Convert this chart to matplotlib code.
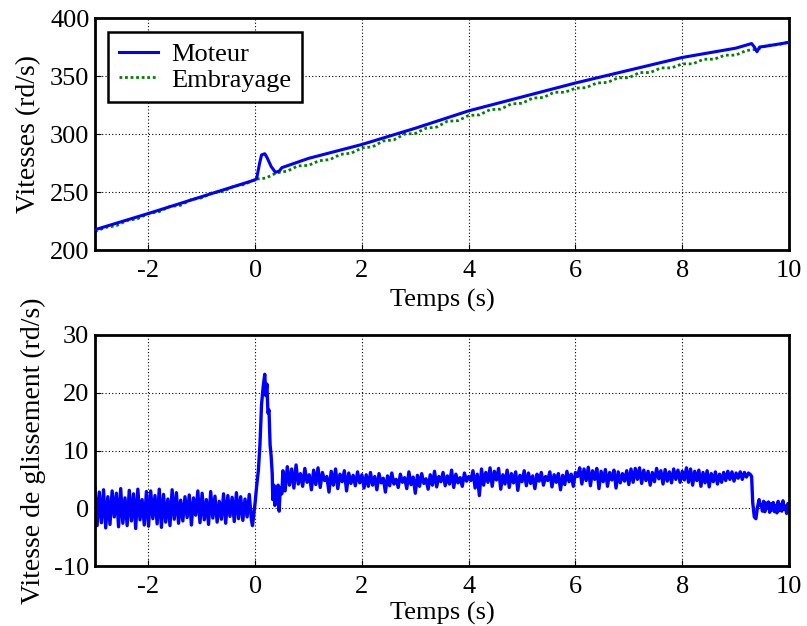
import numpy as np
import matplotlib
matplotlib.use("Agg")
import matplotlib.pyplot as plt

plt.rcParams['font.family'] = ['Liberation Serif', 'DejaVu Serif']
plt.rcParams['axes.unicode_minus'] = False

# ---------------- data: top panel ----------------
moteur_t = [-3.0, -2.0, -1.0, 0.0, 0.03, 0.08, 0.12, 0.18, 0.22, 0.30, 0.38, 0.45, 0.50,
            1.0, 1.5, 2.0, 3.0, 4.0, 5.0, 6.0, 7.0, 8.0, 9.0, 9.30, 9.35, 9.40, 9.45, 9.60, 10.0]
moteur_v = [217.5, 231.5, 246.0, 260.5, 262.0, 274.0, 282.0, 283.0, 280.0, 272.0, 267.0, 268.0, 271.0,
            279.0, 285.0, 291.0, 305.0, 320.0, 332.0, 344.0, 355.0, 366.0, 374.0, 378.0, 375.0, 371.0, 375.0, 376.0, 379.0]

embrayage_t_start, embrayage_t_end = -3.0, 10.0
embrayage_v = [216.0, 219.5, 221.0, 225.5, 227.0, 231.5, 233.0, 237.5, 238.5, 243.5,
               245.0, 249.5, 250.5, 255.0, 256.5, 261.0, 262.0, 266.5, 268.0, 272.5,
               273.0, 277.0, 278.0, 282.5, 283.5, 288.0, 289.0, 294.0, 295.0, 300.0,
               300.5, 305.0, 306.0, 311.0, 311.5, 316.0, 316.5, 321.0, 321.5, 326.0,
               326.5, 331.0, 331.5, 336.0, 336.0, 339.5, 340.0, 344.0, 344.5, 348.5,
               348.5, 353.0, 353.0, 357.0, 357.0, 360.5, 360.5, 364.5, 364.5, 368.0,
               368.0, 372.0, 373.0, 376.5, 377.0, 379.5]

# ---------------- data: bottom panel (slip speed) ----------------
slip_seg1 = (-3.0, -0.07, [3.5, -3.0, 2.8, -2.5, 3.2, -3.4, 2.0, -2.8, 3.0, -1.5, 2.6, -3.2, 3.4, -2.6, 1.8,
                           -3.0, 3.1, -2.2, 2.5, -3.5, 3.3, -2.0, 1.5, -2.9, 2.9, -3.1, 3.0, -1.8, 2.2, -2.7,
                           3.3, -3.3, 2.4, -2.4, 1.6, -3.0, 3.2, -1.9, 2.7, -2.6, 1.4, -2.2, 2.0, -1.6, 2.3,
                           -2.9, 1.8, -1.2, 3.0, -2.5, 2.6, -2.0, 1.5, -2.8, 2.9, -1.7, 2.1, -2.4, 1.2, -1.9,
                           2.5, -2.6, 2.2, -1.4, 1.9, -2.3, 2.7, -1.8, 2.0, -2.1, 1.6, -1.5, 2.4, -2.0])
spike_t = [-0.05, 0.0, 0.03, 0.06, 0.09, 0.12, 0.15, 0.18, 0.20, 0.22, 0.24, 0.26, 0.28, 0.30,
           0.32, 0.33, 0.35, 0.37, 0.39, 0.41, 0.43, 0.45, 0.47, 0.50]
spike_v = [-3.0, 1.0, 4.0, 6.5, 11.0, 18.0, 21.0, 23.2, 19.5, 21.5, 16.5, 17.0, 11.0, 9.0,
           6.0, 1.5, 4.0, 0.5, 3.5, 1.5, 4.0, -0.5, 3.5, 2.5]
slip_seg3a = (0.52, 2.0, [6.5, 3.0, 7.2, 4.0, 6.8, 3.5, 7.5, 4.2, 6.0, 3.8, 6.9, 4.5, 5.8, 3.2, 6.6, 4.1, 7.0,
                          3.6, 6.2, 4.8, 5.5, 2.8, 6.4, 4.0, 6.8, 3.4, 5.9, 4.6, 6.5, 3.0, 6.1, 4.3, 5.7,
                          3.9, 6.3, 4.4, 5.8])
slip_seg3b = (2.04, 4.0, [3.5, 5.8, 3.8, 6.2, 4.0, 5.5, 3.2, 6.0, 4.4, 5.2, 2.8, 5.6, 3.9, 6.1, 4.2, 5.0, 3.6,
                          5.9, 4.5, 5.3, 3.4, 6.3, 4.1, 5.4, 2.6, 5.7, 3.8, 6.0, 4.3, 5.1, 3.3, 5.8, 4.0,
                          6.4, 3.7, 5.5, 4.6, 6.2, 3.9, 5.6, 4.2, 6.6, 3.6, 5.9, 4.4, 5.3, 3.8, 6.1, 4.7, 5.5])
slip_seg3c = (4.04, 6.0, [4.8, 6.5, 3.5, 5.9, 2.2, 6.8, 4.0, 6.2, 4.5, 7.0, 3.8, 6.4, 4.9, 6.9, 3.3, 5.8, 4.2,
                          6.6, 3.6, 6.0, 4.4, 6.3, 3.1, 5.7, 4.6, 6.5, 3.9, 6.1, 4.3, 5.6, 3.4, 5.9, 4.7,
                          6.2, 4.0, 5.5, 4.8, 6.3, 3.7, 5.8, 4.5, 6.0, 3.2, 5.7, 4.1, 6.4, 4.6, 5.9, 3.8, 6.2])
slip_seg3d = (6.04, 8.0, [5.5, 7.0, 4.2, 6.8, 4.8, 7.1, 3.9, 6.5, 5.0, 6.9, 3.4, 6.4, 4.6, 6.7, 3.8, 6.2, 4.9,
                          6.6, 3.5, 6.3, 4.4, 6.0, 4.7, 6.5, 4.1, 6.8, 4.5, 6.9, 5.0, 7.0, 4.3, 6.6, 4.8,
                          6.4, 4.0, 6.2, 4.6, 6.9, 5.1, 6.5, 4.2, 6.7, 4.7, 6.3, 4.4, 6.8, 5.0, 6.6, 4.5, 6.4])
slip_seg3e = (8.04, 9.28, [4.9, 7.0, 4.5, 6.8, 4.0, 6.4, 4.8, 6.6, 3.8, 6.2, 4.4, 6.5, 3.7, 6.0, 4.6, 6.3, 4.2,
                           5.9, 4.5, 6.2, 4.8, 6.4, 5.0, 6.3, 4.7, 6.1, 5.2, 6.3, 5.0, 6.2, 5.4, 6.1, 5.8])
drop_t = [9.30, 9.32, 9.35, 9.38, 9.41, 9.44, 9.46]
drop_v = [5.5, 1.0, -1.5, -1.8, 0.2, 1.5, 0.5]
slip_seg4 = (9.48, 10.0, [0.6, -0.5, 1.2, -0.6, 0.9, 0.0, 1.1, -0.7, 0.8, -0.3, 1.0, -0.6, 0.5, -0.8, 1.2,
                          -0.4, 0.7, -0.5, 1.3, -0.2, 0.4, -0.9, 0.8, 0.1])

xticks = [-2, 0, 2, 4, 6, 8, 10]
top_yticks = [200, 250, 300, 350, 400]
bot_yticks = [-10, 0, 10, 20, 30]


def seg_xy(seg):
    a, b, vals = seg
    return list(np.linspace(a, b, len(vals))), list(vals)


slip_t, slip_v = [], []
for part in [seg_xy(slip_seg1), (spike_t, spike_v), seg_xy(slip_seg3a), seg_xy(slip_seg3b),
             seg_xy(slip_seg3c), seg_xy(slip_seg3d), seg_xy(slip_seg3e), (drop_t, drop_v),
             seg_xy(slip_seg4)]:
    slip_t += list(part[0])
    slip_v += list(part[1])

emb_t = np.linspace(embrayage_t_start, embrayage_t_end, len(embrayage_v))

# ---------------- figure ----------------
fig = plt.figure(figsize=(8.07, 6.26), dpi=100)
ax1 = fig.add_axes([0.1177, 0.6006, 0.8600, 0.3706])
ax2 = fig.add_axes([0.1177, 0.0958, 0.8600, 0.3691])

blue = '#0000ff'
green = '#008000'

ax1.plot(emb_t, embrayage_v, linestyle=(0, (1, 1)), color=green, linewidth=2.0, label='Embrayage', zorder=2)
ax1.plot(moteur_t, moteur_v, linestyle='-', color=blue, linewidth=2.2, label='Moteur', zorder=3)
ax2.plot(slip_t, slip_v, linestyle='-', color=blue, linewidth=2.4)

for ax, yt, ylab, lp in [(ax1, top_yticks, 'Vitesses (rd/s)', 5),
                         (ax2, bot_yticks, 'Vitesse de glissement (rd/s)', 3)]:
    ax.set_xlim(-3, 10)
    ax.set_ylim(yt[0], yt[-1])
    ax.set_xticks(xticks)
    ax.set_yticks(yt)
    ax.set_xticklabels([str(v) for v in xticks])
    ax.set_yticklabels([str(v) for v in yt])
    ax.grid(True, linestyle=(0, (1, 2)), color='black', linewidth=0.8)
    for s in ax.spines.values():
        s.set_linewidth(2.0)
        s.set_color('black')
    ax.tick_params(direction='in', length=4, width=0.8, labelsize=19)
    ax.tick_params(axis='x', pad=7)
    ax.tick_params(axis='y', pad=4)
    ax.set_xlabel('Temps (s)', fontsize=19, labelpad=lp)
    ax.set_ylabel(ylab, fontsize=20, labelpad=6)

handles, labels = ax1.get_legend_handles_labels()
leg = ax1.legend([handles[1], handles[0]], [labels[1], labels[0]], loc='upper left',
                 bbox_to_anchor=(0.0187, 0.94), fontsize=19, frameon=True, fancybox=False,
                 framealpha=1, edgecolor='black', handlelength=1.5, borderpad=0.4,
                 labelspacing=0.08, handletextpad=0.5, borderaxespad=0.0)
leg.get_frame().set_linewidth(1.8)

fig.savefig('out.png', dpi=100)
